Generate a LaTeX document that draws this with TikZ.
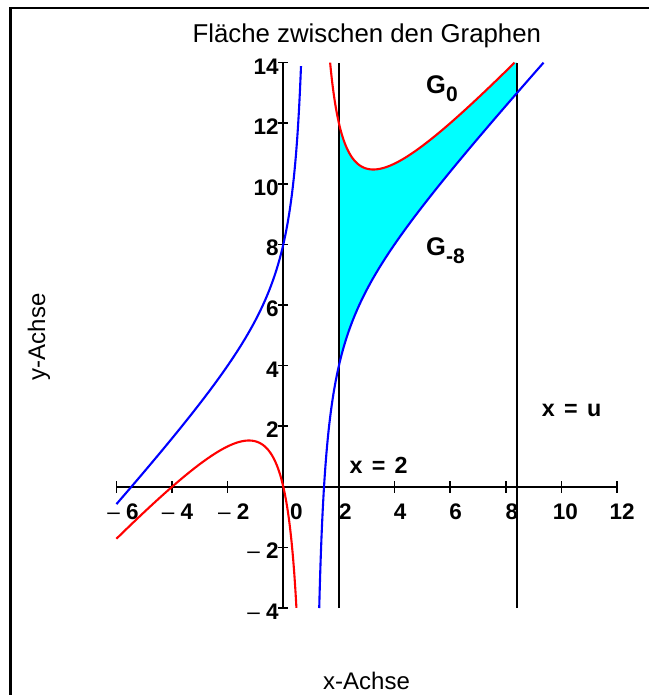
\documentclass[tikz,border=0pt]{standalone}
\usepackage{fontspec}
\setmainfont{Liberation Sans}
\definecolor{areacyan}{RGB}{0,255,255}
\definecolor{gred}{RGB}{255,0,0}
\definecolor{gblue}{RGB}{0,0,255}
\begin{document}
\begin{tikzpicture}[x=1pt,y=1pt,
  frame/.style={line width=2.8pt,black},
  axisline/.style={line width=1.8pt,black},
  tickmark/.style={line width=1.5pt,black},
  vline/.style={line width=2pt,black},
  gzero/.style={line width=2.1pt,gred},
  gminus/.style={line width=2.1pt,gblue},
  area/.style={fill=areacyan},
  ticklab/.style={inner sep=0pt,font=\fontsize{22.5}{23}\selectfont\bfseries},
  titlelab/.style={inner sep=0pt,font=\fontsize{25.8}{26}\selectfont},
  axtitle/.style={inner sep=0pt,font=\fontsize{24}{24}\selectfont},
  linelab/.style={inner sep=0pt,font=\fontsize{23.3}{24}\selectfont\bfseries},
  glab/.style={inner sep=0pt,font=\fontsize{25.5}{26}\selectfont\bfseries}]
\useasboundingbox (0,0) rectangle (649,-695);
\draw[frame] (10.5,-695) -- (10.5,-8) -- (649,-8);
\node[titlelab,anchor=base] (title) at (366.8,-42.7) {Fläche zwischen den Graphen};
\node[axtitle,anchor=base] (xtitle) at (366.5,-689) {x-Achse};
\node[axtitle,rotate=90,anchor=base] (ytitle) at (45,-336.7) {y-Achse};
\begin{scope}[shift={(283.3,-486.8)},x=27.81pt,y=30.3pt]
  % area between the graphs
  \fill[area] plot[domain=2:8.4,samples=150] (\x,{\x+5-3/(\x-1)})
    -- (8.4,14)
    -- plot[domain=0:6.3166,samples=150,variable=\t] ({8.3166-\t},{8.3166-\t+5+5/(8.3166-\t-1)})
    -- cycle;
  % axes
  \draw[axisline] (-6,0) -- (12,0);
  \draw[axisline] (0,-4) -- (0,14);
  \foreach \t in {-6,-4,...,12} \draw[tickmark] (\t,0) ++(0,-6pt) -- ++(0,12pt);
  \foreach \t in {-4,-2,...,14} \draw[tickmark] (0,\t) ++(-5pt,0) -- ++(10pt,0);
  % x tick labels
  \foreach \t/\lab/\dx in {-6/{\textmd{–} 6}/6.5,-4/{\textmd{–} 4}/5.5,-2/{\textmd{–} 2}/6,0/0/13,2/2/6.5,4/4/5.5,6/6/5.5,8/8/6,10/10/4,12/12/5}
    \node[ticklab,anchor=base,xshift=\dx pt,yshift=-33pt] (xl\t) at (\t,0) {\lab};
  % y tick labels
  \foreach \t/\lab in {-4/{\textmd{–} 4},-2/{\textmd{–} 2},2/2,4/4,6/6,8/8,10/10,12/12,14/14}
    \node[ticklab,anchor=base east,xshift=-4.5pt,yshift=-11.5pt] (yl\t) at (0,\t) {\lab};
  % vertical lines
  \draw[vline] (2,-4) -- (2,14);
  \draw[vline] (8.4,-4) -- (8.4,14);
  % graphs
  \draw[gzero] plot[domain=-6:0.4721,samples=400] (\x,{\x+5+5/(\x-1)});
  \draw[gzero] plot[domain=1.6834:8.3166,samples=300] (\x,{\x+5+5/(\x-1)});
  \draw[gminus] plot[domain=-6:0.6411,samples=400] (\x,{\x+5-3/(\x-1)});
  \draw[gminus] plot[domain=1.2915:9.3589,samples=400] (\x,{\x+5-3/(\x-1)});
\end{scope}
\node[linelab,anchor=base west] (lx2) at (349.3,-473.3) {x\hspace{0.4em}=\hspace{0.4em}2};
\node[linelab,anchor=base west] (lxu) at (541.7,-416.7) {x\hspace{0.4em}=\hspace{0.4em}u};
\node[glab,anchor=base west] (g0) at (426,-93.3) {G\raisebox{-8pt}{\fontsize{21}{21}\selectfont 0}};
\node[glab,anchor=base west] (g8) at (426,-255) {G\raisebox{-8pt}{\fontsize{21}{21}\selectfont -8}};
\end{tikzpicture}
\end{document}
